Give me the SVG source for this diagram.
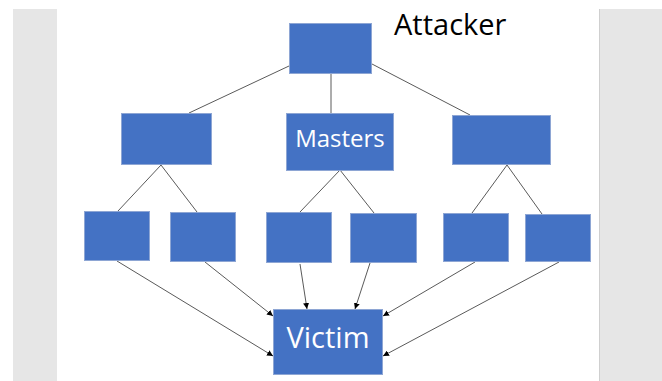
<svg xmlns="http://www.w3.org/2000/svg" width="662" height="381" viewBox="0 0 662 381">
<defs>
<style>
.box{fill:#4472C4;stroke:#8EA6D4;stroke-width:1}
.ln{stroke:#5A5A5A;stroke-width:1;fill:none}
.ar{stroke:#5A5A5A;stroke-width:1;fill:none;marker-end:url(#ah)}
.wt{fill:#FFFFFF;font-family:"Open Sans","Liberation Sans",sans-serif;text-anchor:middle}
</style>
<marker id="ah" viewBox="0 0 10 10" refX="10" refY="5" markerWidth="6" markerHeight="6" markerUnits="userSpaceOnUse" orient="auto">
<path d="M0,0 L10,5 L0,10 Z" fill="#000000"/>
</marker>
</defs>
<rect x="0" y="0" width="662" height="381" fill="#FFFFFF"/>
<rect x="13" y="9" width="44" height="372" fill="#E6E6E6"/>
<rect x="599" y="9" width="63" height="372" fill="#E6E6E6"/>
<line x1="599.5" y1="9" x2="599.5" y2="381" stroke="#CFCFCF" stroke-width="1"/>

<g id="connectors">
<line class="ln" x1="289" y1="66" x2="189" y2="113"/>
<line class="ln" x1="331" y1="74" x2="331" y2="113"/>
<line class="ln" x1="372" y1="64" x2="470" y2="115"/>
<line class="ln" x1="161" y1="165" x2="118" y2="211"/>
<line class="ln" x1="161" y1="165" x2="197" y2="212"/>
<line class="ln" x1="340" y1="170" x2="300" y2="212"/>
<line class="ln" x1="340" y1="170" x2="374" y2="213"/>
<line class="ln" x1="507" y1="165" x2="472" y2="213"/>
<line class="ln" x1="507" y1="165" x2="542" y2="214"/>
<line class="ar" x1="117" y1="261" x2="273" y2="356"/>
<line class="ar" x1="205" y1="262" x2="273" y2="316"/>
<line class="ar" x1="300" y1="264" x2="307" y2="309"/>
<line class="ar" x1="370" y1="263" x2="355" y2="309"/>
<line class="ar" x1="475" y1="262" x2="383" y2="316"/>
<line class="ar" x1="559" y1="262" x2="383" y2="356"/>
</g>

<g id="attacker"><rect class="box" x="289.5" y="23.5" width="82" height="50"/></g>
<text x="394" y="35" font-family="'Open Sans','Liberation Sans',sans-serif" font-size="29" fill="#000000">Attacker</text>
<g id="mid-left"><rect class="box" x="121.5" y="113.5" width="90" height="51"/></g>
<g id="masters"><rect class="box" x="286.5" y="113.5" width="107" height="57"/>
<text class="wt" x="340" y="147" font-size="24">Masters</text></g>
<g id="mid-right"><rect class="box" x="452.5" y="115.5" width="98" height="49"/></g>
<g id="bot1"><rect class="box" x="84.5" y="211.5" width="65" height="49"/></g>
<g id="bot2"><rect class="box" x="170.5" y="212.5" width="65" height="49"/></g>
<g id="bot3"><rect class="box" x="266.5" y="212.5" width="65" height="50"/></g>
<g id="bot4"><rect class="box" x="350.5" y="213.5" width="66" height="49"/></g>
<g id="bot5"><rect class="box" x="443.5" y="213.5" width="65" height="48"/></g>
<g id="bot6"><rect class="box" x="525.5" y="214.5" width="65" height="47"/></g>
<g id="victim"><rect class="box" x="273.5" y="309.5" width="109" height="65"/>
<text class="wt" x="328" y="348" font-size="29">Victim</text></g>
</svg>
